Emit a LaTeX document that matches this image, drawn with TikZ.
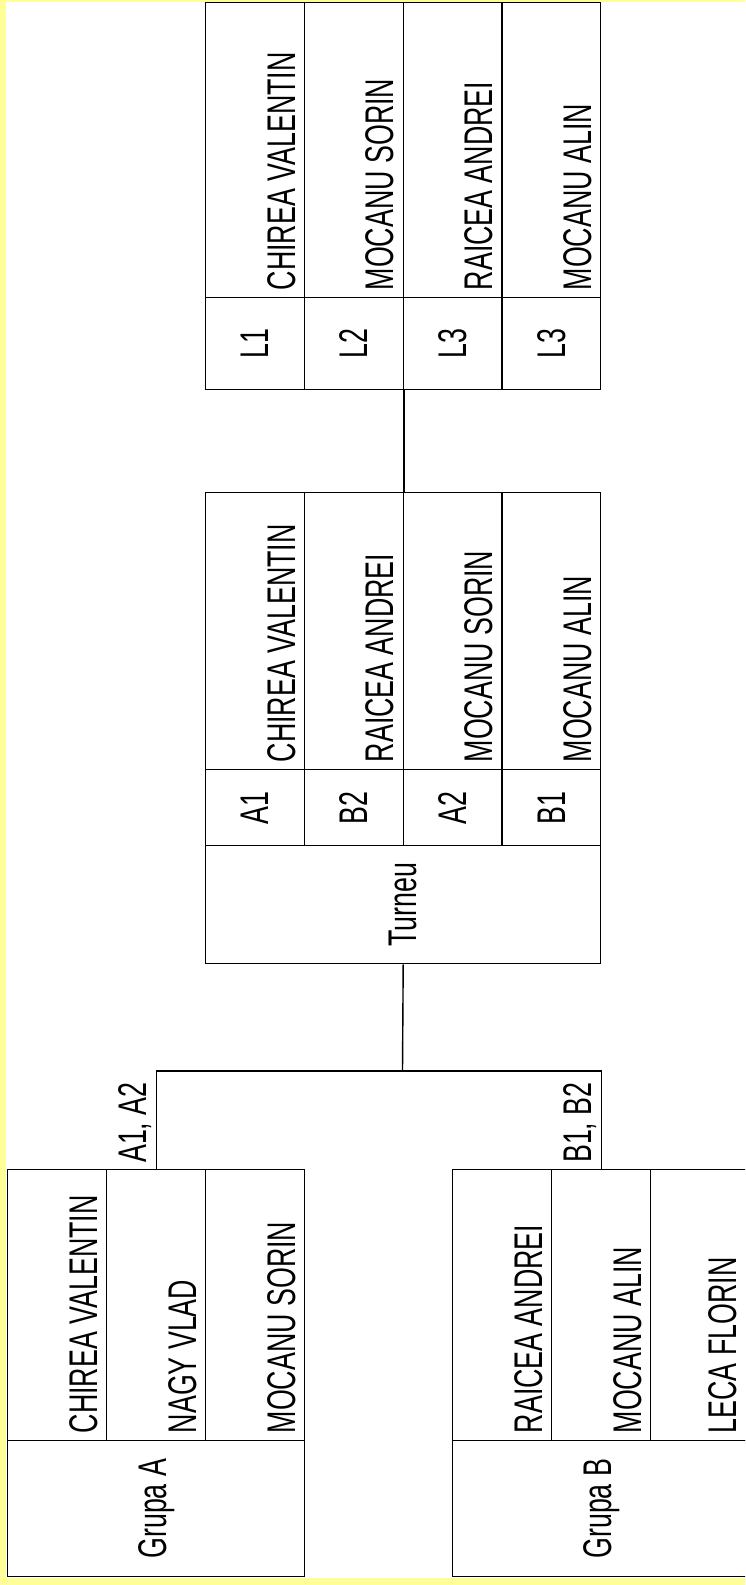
\documentclass[tikz,border=0pt]{standalone}
\usepackage{fontspec}
\setmainfont[FakeStretch=0.67]{Liberation Sans}
\definecolor{pageyellow}{RGB}{255,255,153}

\begin{document}
\begin{tikzpicture}[x=1pt, y=-1pt,
  cell/.style={draw, line width=1.4pt, inner sep=0pt, anchor=north west},
  qcell/.style={cell, minimum width=98.75pt},
  tcell/.style={cell, minimum width=99pt},
  txt/.style={rotate=90, inner sep=0pt, font=\fontsize{40}{48}\selectfont},
  player/.style={txt, anchor=base west},
  link/.style={line width=1.4pt}]
\useasboundingbox (0,0) rectangle (745,1585);
\clip (0,0) rectangle (745,1585);
\fill[pageyellow] (0,0) rectangle (745,1585);
\fill[white] (6,1.5) rectangle (745,1578);

% final ranking
\node[qcell, minimum height=295pt] (fn1) at (205,2) {};
\node[qcell, minimum height=295pt] (fn2) at (303.75,2) {};
\node[qcell, minimum height=295pt] (fn3) at (402.5,2) {};
\node[qcell, minimum height=295pt] (fn4) at (501.25,2) {};
\node[qcell, minimum height=92pt] (fc1) at (205,297) {};
\node[qcell, minimum height=92pt] (fc2) at (303.75,297) {};
\node[qcell, minimum height=92pt] (fc3) at (402.5,297) {};
\node[qcell, minimum height=92pt] (fc4) at (501.25,297) {};
\node[player] (fp1) at ([xshift=-10pt,yshift=8pt]fn1.south east) {CHIREA VALENTIN};
\node[player] (fp2) at ([xshift=-10pt,yshift=8pt]fn2.south east) {MOCANU SORIN};
\node[player] (fp3) at ([xshift=-10pt,yshift=8pt]fn3.south east) {RAICEA ANDREI};
\node[player] (fp4) at ([xshift=-10pt,yshift=8pt]fn4.south east) {MOCANU ALIN};
\node[txt] (fl1) at (fc1) {L1};
\node[txt] (fl2) at (fc2) {L2};
\node[txt] (fl3) at (fc3) {L3};
\node[txt] (fl4) at (fc4) {L3};

% tournament
\node[qcell, minimum height=277pt] (tn1) at (205,492) {};
\node[qcell, minimum height=277pt] (tn2) at (303.75,492) {};
\node[qcell, minimum height=277pt] (tn3) at (402.5,492) {};
\node[qcell, minimum height=277pt] (tn4) at (501.25,492) {};
\node[qcell, minimum height=76pt] (tc1) at (205,769) {};
\node[qcell, minimum height=76pt] (tc2) at (303.75,769) {};
\node[qcell, minimum height=76pt] (tc3) at (402.5,769) {};
\node[qcell, minimum height=76pt] (tc4) at (501.25,769) {};
\node[cell, minimum width=395pt, minimum height=118pt] (tb) at (205,845) {};
\node[player] (tp1) at ([xshift=-10pt,yshift=8pt]tn1.south east) {CHIREA VALENTIN};
\node[player] (tp2) at ([xshift=-10pt,yshift=8pt]tn2.south east) {RAICEA ANDREI};
\node[player] (tp3) at ([xshift=-10pt,yshift=8pt]tn3.south east) {MOCANU SORIN};
\node[player] (tp4) at ([xshift=-10pt,yshift=8pt]tn4.south east) {MOCANU ALIN};
\node[txt] (tl1) at (tc1) {A1};
\node[txt] (tl2) at (tc2) {B2};
\node[txt] (tl3) at (tc3) {A2};
\node[txt] (tl4) at (tc4) {B1};
\node[txt] (tt) at (tb) {Turneu};

% group A
\node[tcell, minimum height=271pt] (an1) at (7,1169) {};
\node[tcell, minimum height=271pt] (an2) at (106,1169) {};
\node[tcell, minimum height=271pt] (an3) at (205,1169) {};
\node[cell, minimum width=297pt, minimum height=136pt] (ab) at (7,1440) {};
\node[player] (ap1) at ([xshift=-10pt,yshift=8pt]an1.south east) {CHIREA VALENTIN};
\node[player] (ap2) at ([xshift=-10pt,yshift=8pt]an2.south east) {NAGY VLAD};
\node[player] (ap3) at ([xshift=-10pt,yshift=8pt]an3.south east) {MOCANU SORIN};
\node[txt] (at) at (ab) {Grupa A};

% group B
\node[tcell, minimum height=271pt] (bn1) at (452,1169) {};
\node[tcell, minimum height=271pt] (bn2) at (551,1169) {};
\node[tcell, minimum height=271pt] (bn3) at (650,1169) {};
\node[cell, minimum width=297pt, minimum height=136pt] (bb) at (452,1440) {};
\node[player] (bp1) at ([xshift=-10pt,yshift=8pt]bn1.south east) {RAICEA ANDREI};
\node[player] (bp2) at ([xshift=-10pt,yshift=8pt]bn2.south east) {MOCANU ALIN};
\node[player] (bp3) at ([xshift=-14pt,yshift=8pt]bn3.south east) {LECA FLORIN};
\node[txt] (bt) at (bb) {Grupa B};

% connectors
\coordinate (fork) at (402.5,1071);
\draw[link] (fc2.south east) -- (tn2.north east);
\draw[link] (tb.south) -- (fork);
\draw[link] (an2.north) |- (fork) -| (bn2.north);
\node[player] (aq) at ([xshift=-10pt,yshift=6pt]an2.north) {A1, A2};
\node[player] (bq) at ([xshift=-10pt,yshift=6pt]bn2.north) {B1, B2};
\end{tikzpicture}
\end{document}
